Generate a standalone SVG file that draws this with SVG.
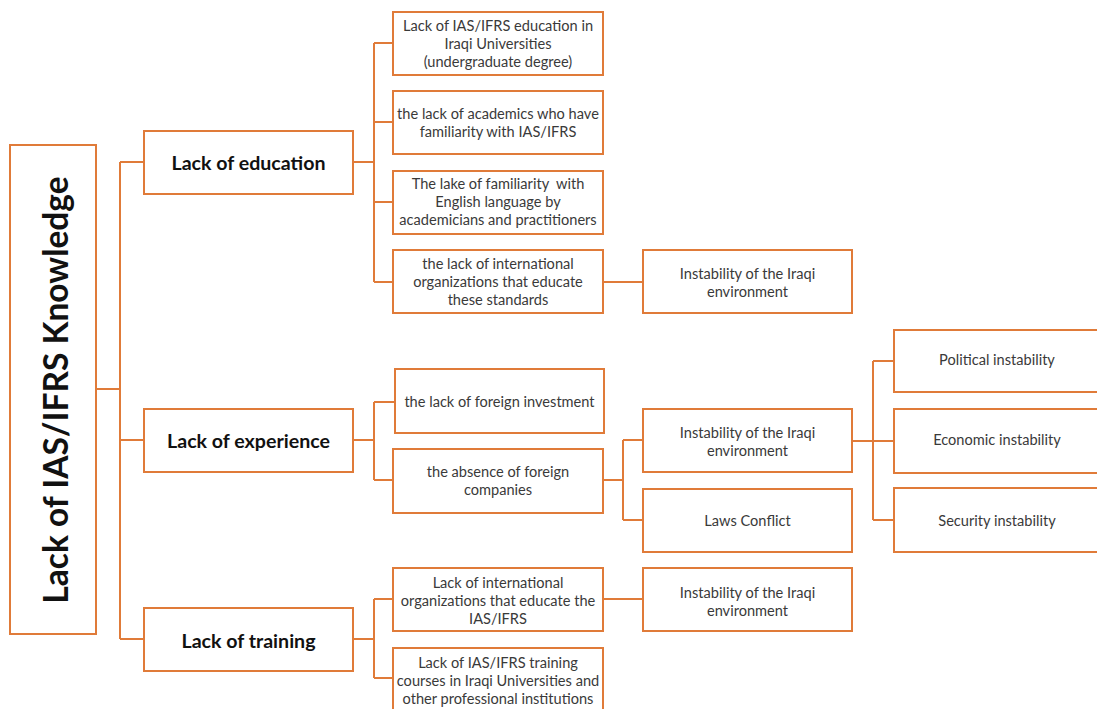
<svg xmlns="http://www.w3.org/2000/svg" width="1097" height="709" viewBox="0 0 1097 709">
  <style>
    .box { fill: #ffffff; stroke: #E07B39; stroke-width: 2; }
    .link { fill: none; stroke: #E07B39; stroke-width: 2; }
    .t { font-family: Lato, "Open Sans", sans-serif; font-size: 14.6px; fill: #3a3a3a; text-anchor: middle; dominant-baseline: central; }
    .h { font-family: Lato, "Open Sans", sans-serif; font-size: 19.6px; font-weight: bold; fill: #111111; text-anchor: middle; dominant-baseline: central; }
    .root { font-family: Lato, "Open Sans", sans-serif; font-size: 33.5px; font-weight: bold; fill: #111111; text-anchor: middle; dominant-baseline: central; }
  </style>
  <rect width="1097" height="709" fill="#ffffff"/>

  <!-- connectors -->
  <g id="connectors">
    <!-- root to categories -->
    <path class="link" d="M96 389 H120 M120 162 V639 M120 162 H144 M120 440 H144 M120 639 H144"/>
    <!-- education -->
    <path class="link" d="M353 162 H374 M374 43 V282 M374 43 H393 M374 122 H393 M374 202 H393 M374 282 H393"/>
    <path class="link" d="M603 282 H643"/>
    <!-- experience -->
    <path class="link" d="M353 440 H374 M374 402 V480 M374 402 H395 M374 480 H393"/>
    <path class="link" d="M603 480 H623 M623 440 V520 M623 440 H643 M623 520 H643"/>
    <path class="link" d="M852 441 H873 M873 361 V520 M873 361 H894 M873 441 H894 M873 520 H894"/>
    <!-- training -->
    <path class="link" d="M353 639 H374 M374 599 V678 M374 599 H393 M374 678 H393"/>
    <path class="link" d="M603 599 H643"/>
  </g>

  <!-- root -->
  <g id="root">
    <rect class="box" x="10" y="145" width="86" height="489"/>
    <text class="root" transform="translate(55 390) rotate(-90)">Lack of IAS/IFRS Knowledge</text>
  </g>

  <!-- categories -->
  <g id="lack-education">
    <rect class="box" x="144" y="131" width="209" height="63"/>
    <text class="h" x="248.5" y="162">Lack of education</text>
  </g>
  <g id="lack-experience">
    <rect class="box" x="144" y="409" width="209" height="63"/>
    <text class="h" x="248.5" y="440">Lack of experience</text>
  </g>
  <g id="lack-training">
    <rect class="box" x="144" y="608" width="209" height="63"/>
    <text class="h" x="248.5" y="640">Lack of training</text>
  </g>

  <!-- education causes -->
  <g id="edu-universities">
    <rect class="box" x="393" y="12" width="210" height="63"/>
    <text class="t" x="498" y="25">Lack of IAS/IFRS education in</text>
    <text class="t" x="498" y="43">Iraqi Universities</text>
    <text class="t" x="498" y="61">(undergraduate degree)</text>
  </g>
  <g id="edu-academics">
    <rect class="box" x="393" y="91" width="210" height="63"/>
    <text class="t" x="498" y="113">the lack of academics who have</text>
    <text class="t" x="498" y="131">familiarity with IAS/IFRS</text>
  </g>
  <g id="edu-english">
    <rect class="box" x="393" y="171" width="210" height="63"/>
    <text class="t" x="498" y="183" xml:space="preserve">The lake of familiarity  with</text>
    <text class="t" x="498" y="201">English language by</text>
    <text class="t" x="498" y="219">academicians and practitioners</text>
  </g>
  <g id="edu-organizations">
    <rect class="box" x="393" y="250" width="210" height="63"/>
    <text class="t" x="498" y="263">the lack of international</text>
    <text class="t" x="498" y="281">organizations that educate</text>
    <text class="t" x="498" y="299">these standards</text>
  </g>
  <g id="edu-instability">
    <rect class="box" x="643" y="250" width="209" height="63"/>
    <text class="t" x="747.5" y="273">Instability of the Iraqi</text>
    <text class="t" x="747.5" y="291">environment</text>
  </g>

  <!-- experience causes -->
  <g id="exp-investment">
    <rect class="box" x="395" y="369" width="209" height="64"/>
    <text class="t" x="499.5" y="401">the lack of foreign investment</text>
  </g>
  <g id="exp-companies">
    <rect class="box" x="393" y="449" width="210" height="64"/>
    <text class="t" x="498" y="471">the absence of foreign</text>
    <text class="t" x="498" y="489">companies</text>
  </g>
  <g id="exp-instability">
    <rect class="box" x="643" y="409" width="209" height="63"/>
    <text class="t" x="747.5" y="432">Instability of the Iraqi</text>
    <text class="t" x="747.5" y="450">environment</text>
  </g>
  <g id="exp-laws">
    <rect class="box" x="643" y="489" width="209" height="63"/>
    <text class="t" x="747.5" y="520">Laws Conflict</text>
  </g>
  <g id="political">
    <rect class="box" x="894" y="330" width="210" height="62"/>
    <text class="t" x="997" y="359">Political instability</text>
  </g>
  <g id="economic">
    <rect class="box" x="894" y="409" width="210" height="64"/>
    <text class="t" x="997" y="439">Economic instability</text>
  </g>
  <g id="security">
    <rect class="box" x="894" y="488" width="210" height="64"/>
    <text class="t" x="997" y="520">Security instability</text>
  </g>

  <!-- training causes -->
  <g id="trn-organizations">
    <rect class="box" x="393" y="568" width="210" height="63"/>
    <text class="t" x="498" y="582">Lack of international</text>
    <text class="t" x="498" y="600">organizations that educate the</text>
    <text class="t" x="498" y="618">IAS/IFRS</text>
  </g>
  <g id="trn-courses">
    <rect class="box" x="393" y="648" width="210" height="64"/>
    <text class="t" x="498" y="662">Lack of IAS/IFRS training</text>
    <text class="t" x="498" y="680">courses in Iraqi Universities and</text>
    <text class="t" x="498" y="698">other professional institutions</text>
  </g>
  <g id="trn-instability">
    <rect class="box" x="643" y="568" width="209" height="63"/>
    <text class="t" x="747.5" y="592">Instability of the Iraqi</text>
    <text class="t" x="747.5" y="610">environment</text>
  </g>
</svg>
